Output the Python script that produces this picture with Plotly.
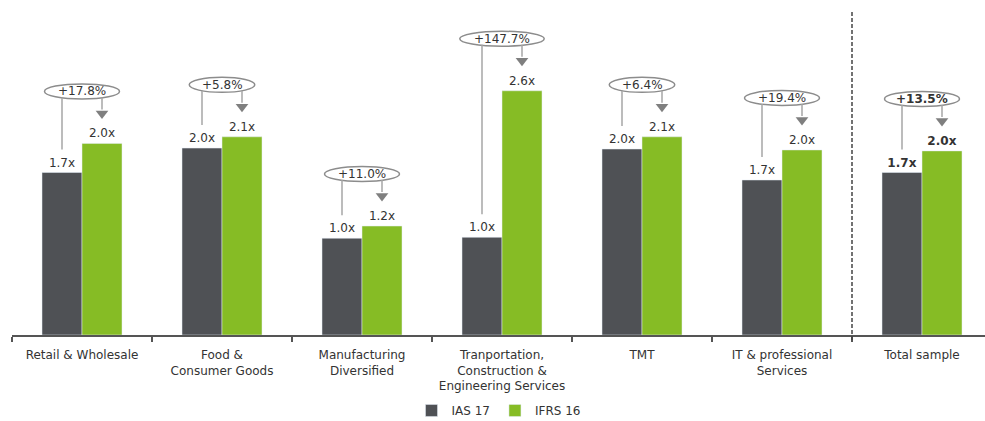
import plotly.graph_objects as go

categories = ["Retail & Wholesale", "Food &<br>Consumer Goods", "Manufacturing<br>Diversified",
              "Tranportation,<br>Construction &<br>Engineering Services", "TMT",
              "IT & professional<br>Services", "Total sample"]
ias17 = [1.73, 1.99, 1.03, 1.04, 1.98, 1.65, 1.73]
ifrs16 = [2.04, 2.11, 1.16, 2.60, 2.11, 1.97, 1.96]
ias17_labels = ["1.7x", "2.0x", "1.0x", "1.0x", "2.0x", "1.7x", "1.7x"]
ifrs16_labels = ["2.0x", "2.1x", "1.2x", "2.6x", "2.1x", "2.0x", "2.0x"]
growth_labels = ["+17.8%", "+5.8%", "+11.0%", "+147.7%", "+6.4%", "+19.4%", "+13.5%"]

C_IAS = "#4f5155"
C_IFRS = "#86bc25"
FONT = "DejaVu Sans"
TXT = "#333333"
FS = 12

W, H = 985, 421
ML, MR, MT, MB = 12, 0, 10, 86
XMIN, XMAX = -0.5, 6.45
YMAX = 3.46
px_x = (XMAX - XMIN) / (W - ML - MR)   # data units per px
px_y = YMAX / (H - MT - MB)

n = len(categories)
xs = list(range(n))
last = n - 1

def fmt(lbls):
    return [f"<b>{t}</b>" if i == last else t for i, t in enumerate(lbls)]

fig = go.Figure()
fig.add_trace(go.Bar(x=xs, y=ias17, name="IAS 17", marker_color=C_IAS,
                     text=fmt(ias17_labels), textposition="outside", cliponaxis=False,
                     textfont=dict(size=FS, color=TXT, family=FONT), hoverinfo="skip"))
fig.add_trace(go.Bar(x=xs, y=ifrs16, name="IFRS 16", marker_color=C_IFRS,
                     text=fmt(ifrs16_labels), textposition="outside", cliponaxis=False,
                     textfont=dict(size=FS, color=TXT, family=FONT), hoverinfo="skip"))

bar_w = 40 * px_x
shapes = []
annotations = []
tri_x, tri_y = [], []
for i in xs:
    lab = growth_labels[i]
    ew = (9.5 * len(lab) + 18) * px_x
    eh = 15 * px_y
    yc = ifrs16[i] + 52 * px_y
    shapes.append(dict(type="circle", xref="x", yref="y", x0=i - ew / 2, x1=i + ew / 2,
                       y0=yc - eh / 2, y1=yc + eh / 2,
                       line=dict(color="#8c8c8c", width=1.5), fillcolor="white", layer="above"))
    annotations.append(dict(x=i, y=yc, xref="x", yref="y", text=f"<b>{lab}</b>" if i == last else lab,
                            showarrow=False, font=dict(size=FS, color=TXT, family=FONT)))
    # left connector
    shapes.append(dict(type="line", xref="x", yref="y", x0=i - bar_w / 2, x1=i - bar_w / 2,
                       y0=yc - eh / 2 * 0.8, y1=ias17[i] + 23 * px_y,
                       line=dict(color="#a6a6a6", width=1.5)))
    # right arrow shaft
    tip = ifrs16[i] + 25 * px_y
    shapes.append(dict(type="line", xref="x", yref="y", x0=i + bar_w / 2, x1=i + bar_w / 2,
                       y0=yc - eh / 2 * 0.8, y1=tip + 9 * px_y,
                       line=dict(color="#a6a6a6", width=1.5)))
    tri_x.append(i + bar_w / 2)
    tri_y.append(tip + 5 * px_y)

fig.add_trace(go.Scatter(x=tri_x, y=tri_y, mode="markers", showlegend=False, hoverinfo="skip",
                         marker=dict(symbol="triangle-down", size=11, color="#7f7f7f"),
                         cliponaxis=False))

shapes.append(dict(type="line", xref="x", yref="paper", x0=5.5, x1=5.5, y0=-0.015, y1=1,
                   line=dict(color="#444444", width=1.5, dash="4px,2px")))

fig.update_layout(
    width=W, height=H, margin=dict(l=ML, r=MR, t=MT, b=MB),
    paper_bgcolor="white", plot_bgcolor="white",
    barmode="group", bargap=0.4286, bargroupgap=0,
    shapes=shapes, annotations=annotations,
    font=dict(family=FONT, size=FS, color=TXT),
    showlegend=True,
    legend=dict(orientation="h", x=0.5, xanchor="center", yref="container", y=0.025, yanchor="middle",
                font=dict(size=FS, family=FONT, color=TXT), itemwidth=30),
    xaxis=dict(range=[XMIN, XMAX], tickvals=xs, ticktext=categories, ticks="",
               showline=True, linecolor="#555555", linewidth=1.5, showgrid=False, zeroline=False,
               ticklabelstandoff=8, tickfont=dict(size=FS, family=FONT, color=TXT),
               minor=dict(tickmode="linear", tick0=-0.5, dtick=1, ticks="outside", ticklen=5,
                          tickcolor="#555555", tickwidth=1.5, showgrid=False)),
    yaxis=dict(range=[0, YMAX], visible=False, showgrid=False, zeroline=False),
)

fig.write_html("out.html", config={"displayModeBar": False},
               post_script="document.body.style.margin='0';document.body.style.overflow='hidden';")
